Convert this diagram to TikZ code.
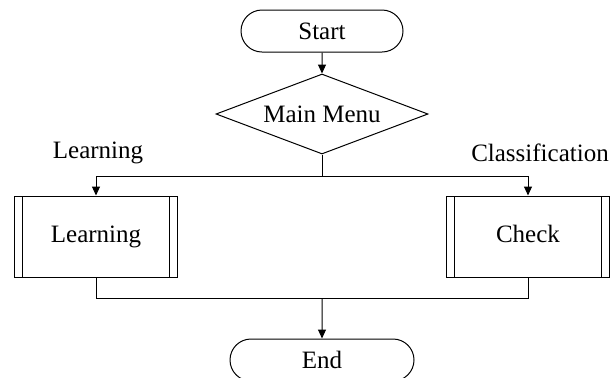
\documentclass[tikz,border=0pt]{standalone}
\usepackage{fontspec}
\setmainfont{Liberation Serif}
\usetikzlibrary{arrows.meta,positioning,shapes.geometric,shapes.misc}

\begin{document}
\begin{tikzpicture}[
		  node distance=10.5pt, >={Triangle[length=4.5pt,width=4pt]},
		  line width=0.5pt,
		  every node/.style={font=\fontsize{12.5}{15}\selectfont},
		  terminal/.style={draw, rounded rectangle, minimum width=81pt, minimum height=21pt, inner sep=0pt},
		  choice/.style={draw, diamond, aspect=2.65, minimum width=106pt, minimum height=40pt, inner sep=0pt},
		  subproc/.style={draw, minimum width=81.5pt, minimum height=40.5pt, inner sep=0pt,
		    text height=8.5pt, text depth=2.5pt,
		    path picture={
		      \draw ([xshift=4pt]path picture bounding box.north west) -- ([xshift=4pt]path picture bounding box.south west);
		      \draw ([xshift=-4pt]path picture bounding box.north east) -- ([xshift=-4pt]path picture bounding box.south east);
		    }},
		  branch/.style={inner sep=0pt}
		]
		\useasboundingbox (0,0) rectangle (305pt,-188.5pt);
		\node[terminal] (start) at (161pt,-15.5pt) {Start};
		\node[choice, below=of start] (menu) {Main Menu};
		\coordinate[below=11pt of menu.south] (split);
		
		\node[subproc] (learn) at (48pt,-118.25pt) {Learning};
		\node[subproc] (check) at (264pt,-118.25pt) {Check};
		\node[branch] (lbl_learn) at (49pt,-76.5pt) {Learning};
		\node[branch] (lbl_class) at (270pt,-76.5pt) {Classification};
		
		\node[terminal, minimum width=92pt] (end) at (161pt,-180pt) {End};
		\coordinate[above=20pt of end.north] (merge);
		
		\draw[->] (start) -- (menu);
		\draw (menu.south) -- (split);
		\draw[->] (split) -| (learn.north);
		\draw[->] (split) -| (check.north);
		\draw (learn.south) |- (merge);
		\draw (check.south) |- (merge);
		\draw[->] (merge) -- (end);
		\end{tikzpicture}
\end{document}
